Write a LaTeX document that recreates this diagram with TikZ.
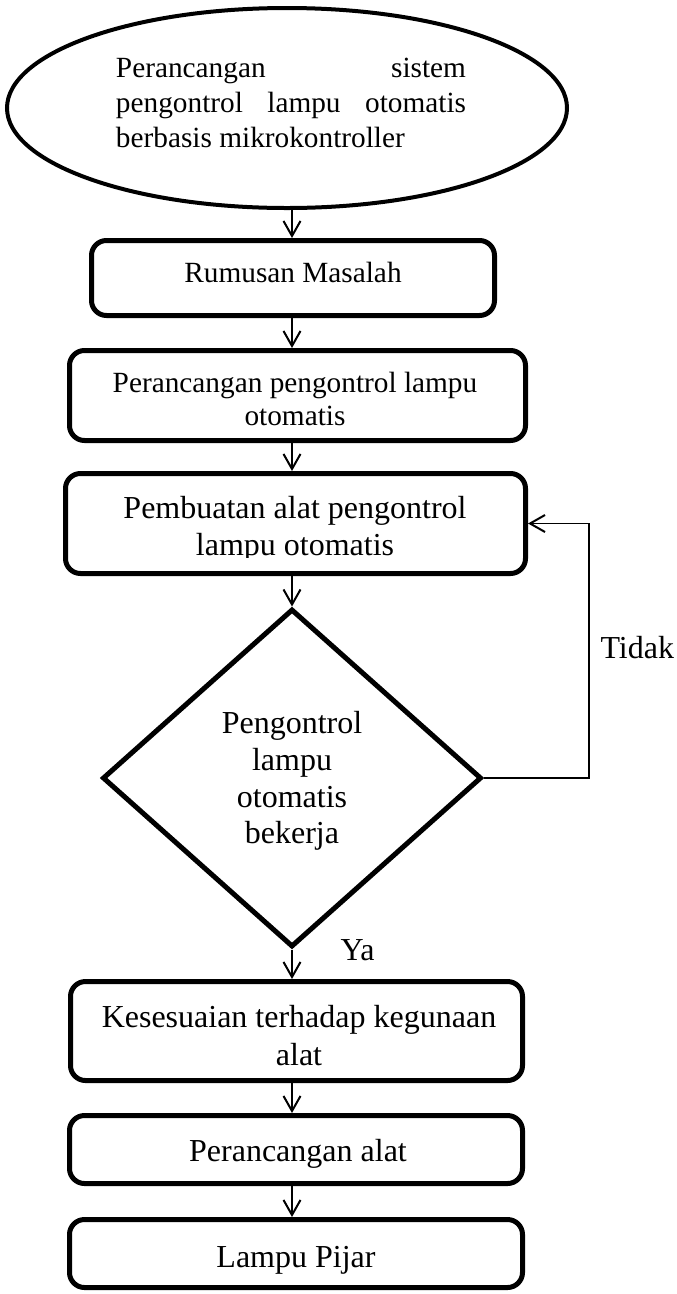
\documentclass[tikz,border=0pt]{standalone}
\usepackage{fontspec}
\setmainfont{Liberation Serif}
\usetikzlibrary{shapes.geometric,arrows.meta}
\begin{document}
\begin{tikzpicture}[x=0.4pt,y=-0.4pt,
  box/.style={draw,line width=2pt,rounded corners=6pt,inner sep=0pt},
  ts/.style={inner sep=0pt,anchor=north,align=center,font=\fontsize{11.72pt}{13.2pt}\selectfont},
  tl/.style={inner sep=0pt,anchor=north,align=center,font=\fontsize{12.8pt}{14.8pt}\selectfont},
  conn/.style={line width=0.8pt,-{Straight Barb[length=6pt,width=6.8pt,line width=0.8pt]}},
  loopconn/.style={line width=0.55pt,-{Straight Barb[length=6pt,width=6.8pt,line width=0.8pt]}}
]
\useasboundingbox (0,0) rectangle (677,1294);
\coordinate (mx) at (292,0);
\coordinate (lx) at (589,0);

% shapes
\node[draw,ellipse,line width=1.6pt,minimum width=560*0.4pt,minimum height=200*0.4pt,inner sep=0pt] (el) at (287,108) {};
\node[box,minimum width=403*0.4pt,minimum height=75*0.4pt] (r1) at (293,278) {};
\node[box,minimum width=456*0.4pt,minimum height=90*0.4pt] (r2) at (297.5,395.5) {};
\node[box,minimum width=460*0.4pt,minimum height=100*0.4pt] (r3) at (295.5,523.5) {};
\node[draw,diamond,line width=2pt,minimum width=379*0.4pt,minimum height=338*0.4pt,inner sep=0pt] (dm) at (292,778) {};
\node[box,minimum width=452*0.4pt,minimum height=99*0.4pt] (r4) at (296.5,1031) {};
\node[box,minimum width=453*0.4pt,minimum height=68*0.4pt] (r5) at (296,1149.5) {};
\node[box,minimum width=453*0.4pt,minimum height=68*0.4pt] (r6) at (296,1253.5) {};

% texts
\node[ts,align=left,font=\fontsize{11.72pt}{14pt}\selectfont] (elt) at (291,58)
  {\hbox to 140pt{Perancangan\hfill sistem}\\\hbox to 140pt{pengontrol\hfill lampu\hfill otomatis}\\berbasis mikrokontroller};
\node[ts] (r1t) at (293,262) {Rumusan Masalah};
\node[ts] (r2t) at (295,372) {Perancangan pengontrol lampu\\otomatis};
\begin{scope}
  \clip (0,471) rectangle (677,557);
  \node[tl] (r3t) at (295,496) {Pembuatan alat pengontrol\\lampu otomatis};
\end{scope}
\node[tl,font=\fontsize{12.8pt}{14.68pt}\selectfont] (dmt) at (292,711) {Pengontrol\\lampu\\otomatis\\bekerja};
\node[tl,font=\fontsize{12.8pt}{15.2pt}\selectfont] (r4t) at (299,1005) {Kesesuaian terhadap kegunaan\\alat};
\node[tl] (r5t) at (298,1139) {Perancangan alat};
\node[tl] (r6t) at (296,1246) {Lampu Pijar};
\node[tl,anchor=north west] (tidak) at (600,636) {Tidak};
\node[tl,anchor=north west] (ya) at (340,939) {Ya};

% connectors
\draw[conn] (el.south -| mx) -- (r1.north -| mx);
\draw[conn] (r1.south -| mx) -- (r2.north -| mx);
\draw[conn] (r2.south -| mx) -- (r3.north -| mx);
\draw[conn] (r3.south -| mx) -- (dm.north);
\draw[conn] (dm.south) -- (r4.north -| mx);
\draw[conn] (r4.south -| mx) -- (r5.north -| mx);
\draw[conn] (r5.south -| mx) -- (r6.north -| mx);
\draw[loopconn] (dm.east) -- (dm.east -| lx) |- (r3.east);
\end{tikzpicture}
\end{document}
